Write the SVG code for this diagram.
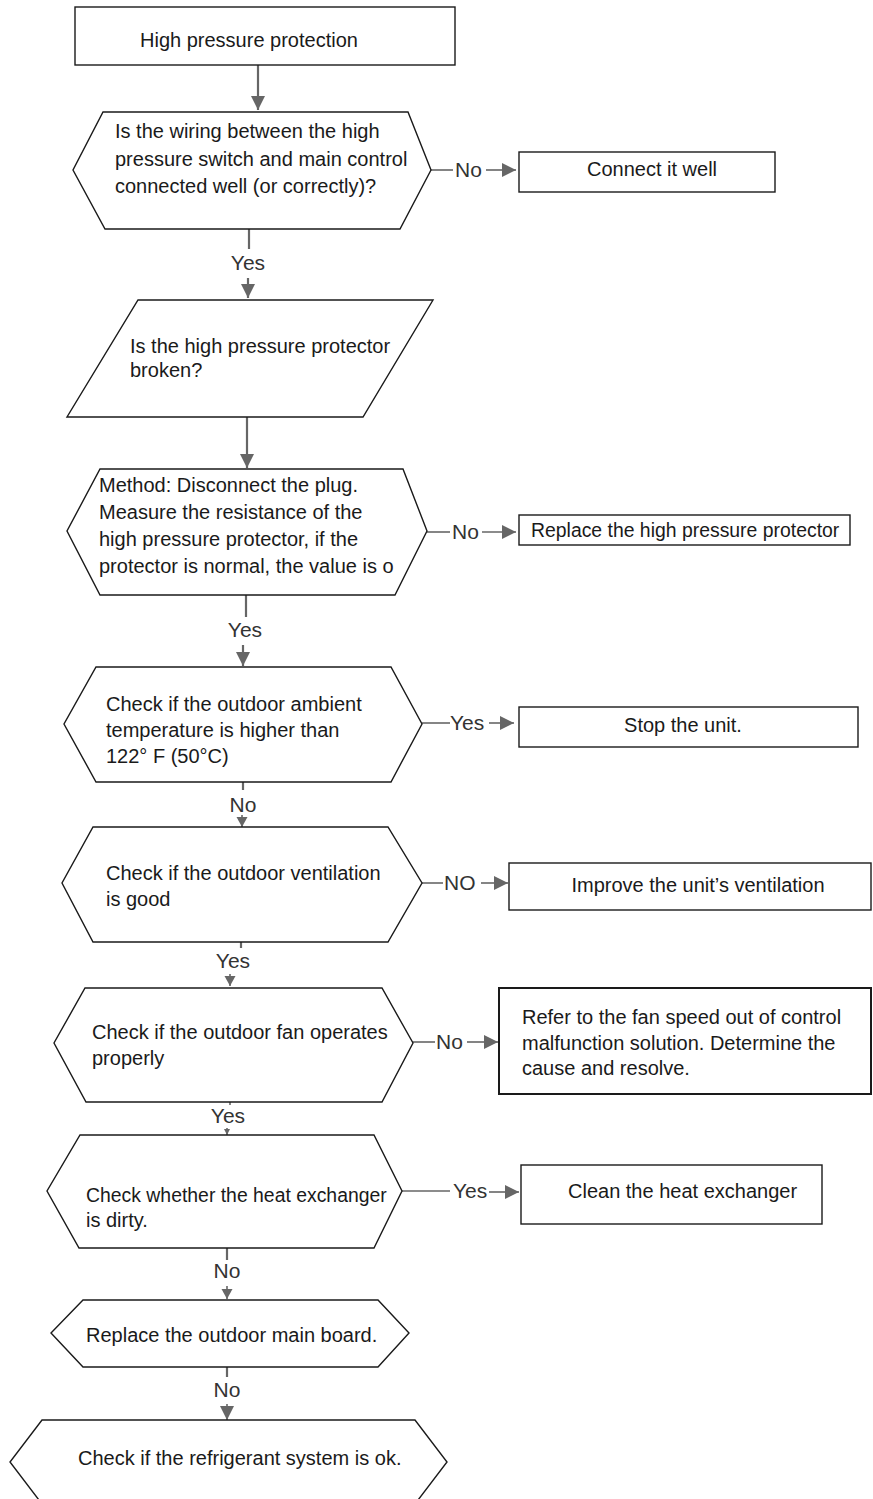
<svg xmlns="http://www.w3.org/2000/svg" width="873" height="1499" viewBox="0 0 873 1499">
<style>
.node{fill:#fff;stroke:#1a1a1a;stroke-width:1.4}
.thick{stroke-width:2}
.t{font-family:"Liberation Sans",Arial,sans-serif;font-size:20px;fill:#1a1a1a}
.sm{font-size:19.4px}
.lbl{font-family:"Liberation Sans",Arial,sans-serif;font-size:21px;fill:#333}
.c{stroke:#666;stroke-width:1.6;fill:none}
.cv{stroke:#666;stroke-width:2.2;fill:none}
.mid{text-anchor:middle}
</style>
<defs>
<marker id="aL" markerUnits="userSpaceOnUse" markerWidth="16" markerHeight="16" refX="14" refY="7" orient="auto"><path d="M0,0 L14,7 L0,14 z" fill="#666"/></marker>
<marker id="aM" markerUnits="userSpaceOnUse" markerWidth="12" markerHeight="12" refX="10" refY="5.5" orient="auto"><path d="M0,0 L10,5.5 L0,11 z" fill="#666"/></marker>
<marker id="aS" markerUnits="userSpaceOnUse" markerWidth="8" markerHeight="8" refX="6" refY="3" orient="auto"><path d="M0,0 L6,3 L0,6 z" fill="#666"/></marker>
</defs>
<rect width="873" height="1499" fill="#fff"/>
<g id="connectors">
<line class="cv" x1="258" y1="65" x2="258" y2="110" marker-end="url(#aL)"/>
<line class="c" x1="431" y1="170" x2="453" y2="170"/>
<text class="lbl" x="455" y="177">No</text>
<line class="c" x1="486" y1="170" x2="516" y2="170" marker-end="url(#aL)"/>
<line class="cv" x1="249" y1="229" x2="249" y2="249"/>
<text class="lbl mid" x="248" y="270">Yes</text>
<line class="cv" x1="248" y1="278" x2="248" y2="298" marker-end="url(#aL)"/>
<line class="cv" x1="247" y1="417" x2="247" y2="468" marker-end="url(#aL)"/>
<line class="c" x1="427" y1="532" x2="450" y2="532"/>
<text class="lbl" x="452" y="539">No</text>
<line class="c" x1="482" y1="532" x2="516" y2="532" marker-end="url(#aL)"/>
<line class="cv" x1="246" y1="595" x2="246" y2="617"/>
<text class="lbl mid" x="245" y="637">Yes</text>
<line class="cv" x1="243" y1="645" x2="243" y2="666" marker-end="url(#aL)"/>
<line class="c" x1="422" y1="723" x2="450" y2="723"/>
<text class="lbl" x="450" y="730">Yes</text>
<line class="c" x1="489" y1="723" x2="514" y2="723" marker-end="url(#aL)"/>
<line class="cv" x1="243" y1="782" x2="243" y2="790"/>
<text class="lbl mid" x="243" y="812">No</text>
<line class="c" x1="242" y1="815" x2="242" y2="827" marker-end="url(#aM)"/>
<line class="c" x1="422" y1="883" x2="443" y2="883"/>
<text class="lbl" x="444" y="890">NO</text>
<line class="c" x1="481" y1="883" x2="508" y2="883" marker-end="url(#aL)"/>
<line class="cv" x1="241" y1="942" x2="241" y2="948"/>
<text class="lbl mid" x="233" y="968">Yes</text>
<line class="c" x1="230" y1="974" x2="230" y2="986" marker-end="url(#aM)"/>
<line class="c" x1="413" y1="1042" x2="435" y2="1042"/>
<text class="lbl" x="436" y="1049">No</text>
<line class="c" x1="467" y1="1042" x2="498" y2="1042" marker-end="url(#aL)"/>
<line class="c" x1="230" y1="1102" x2="230" y2="1105"/>
<text class="lbl mid" x="228" y="1123">Yes</text>
<line class="c" x1="227" y1="1128" x2="227" y2="1135" marker-end="url(#aS)"/>
<line class="c" x1="402" y1="1191" x2="450" y2="1191"/>
<text class="lbl" x="453" y="1198">Yes</text>
<line class="c" x1="489" y1="1192" x2="519" y2="1192" marker-end="url(#aL)"/>
<line class="cv" x1="227" y1="1248" x2="227" y2="1260"/>
<text class="lbl mid" x="227" y="1278">No</text>
<line class="c" x1="227" y1="1286" x2="227" y2="1299" marker-end="url(#aM)"/>
<line class="cv" x1="227" y1="1367" x2="227" y2="1377"/>
<text class="lbl mid" x="227" y="1397">No</text>
<line class="c" x1="227" y1="1404" x2="227" y2="1420" marker-end="url(#aL)"/>
</g>
<g id="n1"><rect class="node" x="75" y="7" width="380" height="58"/><text class="t" x="140" y="47">High pressure protection</text></g>
<g id="n2"><polygon class="node" points="103,112 408,112 431,170 400,229 105,229 73,170"/>
<text class="t" x="115" y="138">Is the wiring between the high</text>
<text class="t" x="115" y="166">pressure switch and main control</text>
<text class="t" x="115" y="193">connected well (or correctly)?</text></g>
<g id="n3"><rect class="node" x="519" y="152" width="256" height="40"/><text class="t mid" x="652" y="176">Connect it well</text></g>
<g id="n4"><polygon class="node" points="138,300 433,300 363,417 67,417"/>
<text class="t" x="130" y="353">Is the high pressure protector</text>
<text class="t" x="130" y="377">broken?</text></g>
<g id="n5"><polygon class="node" points="100,469 403,469 427,531 395,595 100,595 67,531"/>
<text class="t" x="99" y="492">Method: Disconnect the plug.</text>
<text class="t" x="99" y="519">Measure the resistance of the</text>
<text class="t" x="99" y="546">high pressure protector, if the</text>
<text class="t" x="99" y="573">protector is normal, the value is o</text></g>
<g id="n6"><rect class="node" x="519" y="515" width="331" height="30"/><text class="t sm" x="531" y="537">Replace the high pressure protector</text></g>
<g id="n7"><polygon class="node" points="96,667 391,667 422,724 391,782 96,782 64,724"/>
<text class="t" x="106" y="711">Check if the outdoor ambient</text>
<text class="t" x="106" y="737">temperature is higher than</text>
<text class="t" x="106" y="763">122° F (50°C)</text></g>
<g id="n8"><rect class="node" x="519" y="707" width="339" height="40"/><text class="t mid" x="683" y="732">Stop the unit.</text></g>
<g id="n9"><polygon class="node" points="93,827 388,827 422,883 388,942 93,942 62,883"/>
<text class="t" x="106" y="880">Check if the outdoor ventilation</text>
<text class="t" x="106" y="906">is good</text></g>
<g id="n10"><rect class="node" x="509" y="863" width="362" height="47"/><text class="t mid" x="698" y="892">Improve the unit’s ventilation</text></g>
<g id="n11"><polygon class="node" points="85,988 382,988 413,1043 382,1102 86,1102 54,1043"/>
<text class="t" x="92" y="1039">Check if the outdoor fan operates</text>
<text class="t" x="92" y="1065">properly</text></g>
<g id="n12"><rect class="node thick" x="499" y="988" width="372" height="106"/>
<text class="t" x="522" y="1024">Refer to the fan speed out of control</text>
<text class="t" x="522" y="1050">malfunction solution. Determine the</text>
<text class="t" x="522" y="1075">cause and resolve.</text></g>
<g id="n13"><polygon class="node" points="80,1135 374,1135 402,1191 374,1248 79,1248 47,1191"/>
<text class="t sm" x="86" y="1202">Check whether the heat exchanger</text>
<text class="t" x="86" y="1227">is dirty.</text></g>
<g id="n14"><rect class="node" x="521" y="1165" width="301" height="59"/><text class="t" x="568" y="1198">Clean the heat exchanger</text></g>
<g id="n15"><polygon class="node" points="83,1300 378,1300 409,1333 378,1367 83,1367 51,1333"/>
<text class="t" x="86" y="1342">Replace the outdoor main board.</text></g>
<g id="n16"><polygon class="node" points="42,1420 415,1420 447,1462 415,1504 42,1504 10,1462"/>
<text class="t" x="78" y="1465">Check if the refrigerant system is ok.</text></g>
</svg>
